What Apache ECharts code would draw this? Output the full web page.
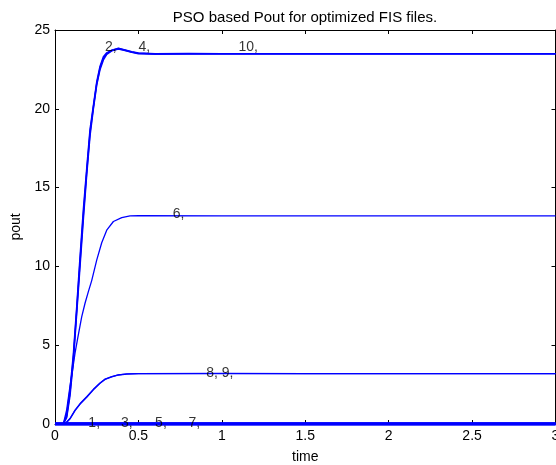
<!DOCTYPE html>
<html>
<head>
<meta charset="utf-8">
<script src="https://cdn.jsdelivr.net/npm/echarts@6/dist/echarts.min.js"></script>
<style>html,body{margin:0;padding:0;background:#fff}#c{width:556px;height:465px}</style>
</head>
<body>
<div id="c"></div>
<script>
// Curves 2, 4, 10 (settle near 23.5)
var timeHigh = [0, 0.05, 0.07, 0.09, 0.11, 0.13, 0.15, 0.17, 0.19, 0.21, 0.23, 0.25, 0.27, 0.29, 0.31, 0.34, 0.38, 0.42, 0.46, 0.5, 0.6, 0.8, 1.0, 1.5, 2.0, 2.5, 3.0];
var pout2  = [0, 0, 0.5, 2.0, 4.2, 7.2, 10.3, 13.3, 16.0, 18.5, 20.1, 21.6, 22.6, 23.2, 23.5, 23.7, 23.82, 23.72, 23.6, 23.52, 23.48, 23.5, 23.5, 23.5, 23.5, 23.5, 23.5];
var pout4  = [0, 0, 0.4, 1.8, 4.0, 7.0, 10.0, 13.0, 15.8, 18.3, 20.0, 21.5, 22.5, 23.1, 23.45, 23.68, 23.8, 23.7, 23.58, 23.5, 23.47, 23.5, 23.49, 23.5, 23.5, 23.5, 23.5];
var pout10 = [0, 0, 0.6, 2.2, 4.4, 7.4, 10.6, 13.6, 16.2, 18.7, 20.2, 21.7, 22.7, 23.3, 23.55, 23.72, 23.84, 23.74, 23.62, 23.54, 23.5, 23.51, 23.5, 23.5, 23.5, 23.5, 23.5];
// Curve 6 (settles near 13.2)
var timeMid = [0, 0.05, 0.07, 0.09, 0.105, 0.12, 0.137, 0.16, 0.18, 0.2, 0.22, 0.25, 0.28, 0.31, 0.35, 0.4, 0.45, 0.5, 1.0, 1.5, 2.0, 2.5, 3.0];
var pout6   = [0, 0, 0.9, 2.4, 3.4, 4.5, 5.5, 6.8, 7.66, 8.4, 9.1, 10.4, 11.5, 12.3, 12.85, 13.1, 13.2, 13.22, 13.2, 13.2, 13.2, 13.2, 13.2];
// Curves 8, 9 (settle near 3.2)
var timeLow = [0, 0.06, 0.09, 0.12, 0.155, 0.19, 0.23, 0.27, 0.30, 0.34, 0.38, 0.43, 0.5, 1.0, 1.5, 2.0, 2.5, 3.0];
var pout8   = [0, 0, 0.35, 0.88, 1.35, 1.73, 2.2, 2.6, 2.85, 3.0, 3.12, 3.18, 3.2, 3.2, 3.2, 3.2, 3.2, 3.2];
var pout9   = [0, 0, 0.33, 0.85, 1.32, 1.7, 2.17, 2.58, 2.83, 2.99, 3.11, 3.17, 3.2, 3.21, 3.2, 3.2, 3.2, 3.2];
// Curves 1, 3, 5, 7 (stay at 0)
var timeZero = [0, 0.5, 1.0, 1.5, 2.0, 2.5, 3.0];
var pout1 = [0, 0, 0, 0, 0, 0, 0];
var pout3 = [0, 0, 0, 0, 0, 0, 0];
var pout5 = [0, 0, 0, 0, 0, 0, 0];
var pout7 = [0, 0, 0, 0, 0, 0, 0];
// Curve annotations
var labelText = ['1,', '2,', '3,', '4,', '5,', '6,', '7,', '8, 9,', '10,'];
var labelX    = [0.20, 0.30, 0.395, 0.50, 0.60, 0.706, 0.80, 0.906, 1.10];
var labelY    = [0.06, 23.9, 0.06, 23.9, 0.06, 13.3, 0.06, 3.23, 23.9];
// Axis ticks
var xTicks = [0, 0.5, 1, 1.5, 2, 2.5, 3];
var yTicks = [0, 5, 10, 15, 20, 25];

function pairs(t, v) { return t.map(function (x, i) { return [x, v[i]]; }); }

var FONT = 'Liberation Sans, Arial, sans-serif';
var BLUE = '#0000ff';

function lineSeries(name, t, v, w) {
  return {
    name: name, type: 'line', data: pairs(t, v), showSymbol: false, symbol: 'none',
    lineStyle: { color: BLUE, width: w }, itemStyle: { color: BLUE },
    animation: false, silent: true, z: 3
  };
}

var chart = echarts.init(document.getElementById('c'), null, { renderer: 'canvas' });
function axisBase() {
  return {
    type: 'value', splitLine: { show: false },
    axisLine: { show: true, onZero: false, lineStyle: { color: '#000', width: 1 } },
    axisTick: { show: true, inside: true, length: 4, lineStyle: { color: '#000' } }
  };
}
chart.setOption({
  animation: false,
  title: {
    text: 'PSO based Pout for optimized FIS files.',
    left: 300, top: 5, textAlign: 'center',
    textStyle: { fontFamily: FONT, fontSize: 15, fontWeight: 'normal', color: '#000' }
  },
  grid: { left: 55, right: 0.5, top: 30, bottom: 41, containLabel: false, outerBoundsMode: 'none' },
  xAxis: [
    Object.assign(axisBase(), {
      min: xTicks[0], max: xTicks[xTicks.length - 1], interval: 0.5, position: 'bottom',
      name: 'time', nameLocation: 'middle', nameGap: 26,
      nameTextStyle: { fontFamily: FONT, fontSize: 14, color: '#000' },
      axisLabel: { fontFamily: FONT, fontSize: 14, color: '#000', margin: 5, showMaxLabel: true,
        formatter: function (v) { return xTicks.indexOf(v) >= 0 ? String(v) : ''; } }
    }),
    Object.assign(axisBase(), {
      min: xTicks[0], max: xTicks[xTicks.length - 1], interval: 0.5, position: 'top',
      axisLabel: { show: false }
    })
  ],
  yAxis: [
    Object.assign(axisBase(), {
      min: yTicks[0], max: yTicks[yTicks.length - 1], interval: 5, position: 'left',
      name: 'pout', nameLocation: 'middle', nameGap: 23, nameRotate: 90,
      nameTextStyle: { fontFamily: FONT, fontSize: 14, color: '#000' },
      axisLabel: { fontFamily: FONT, fontSize: 14, color: '#000', margin: 5 }
    }),
    Object.assign(axisBase(), {
      min: yTicks[0], max: yTicks[yTicks.length - 1], interval: 5, position: 'right',
      axisLabel: { show: false }
    })
  ],
  series: [
    lineSeries('1', timeZero, pout1, 3),
    lineSeries('3', timeZero, pout3, 3),
    lineSeries('5', timeZero, pout5, 3),
    lineSeries('7', timeZero, pout7, 3),
    lineSeries('8', timeLow, pout8, 1.3),
    lineSeries('9', timeLow, pout9, 1.3),
    lineSeries('6', timeMid, pout6, 1.3),
    lineSeries('2', timeHigh, pout2, 1.5),
    lineSeries('4', timeHigh, pout4, 1.5),
    lineSeries('10', timeHigh, pout10, 1.5),
    {
      type: 'scatter', symbolSize: 0, silent: true, animation: false, z: 5,
      data: labelText.map(function (s, i) { return { value: [labelX[i], labelY[i]], name: s }; }),
      label: {
        show: true, position: 'right', distance: 0,
        formatter: function (p) { return p.name; },
        fontFamily: FONT, fontSize: 14, color: '#000'
      }
    }
  ]
});
</script>
</body>
</html>
